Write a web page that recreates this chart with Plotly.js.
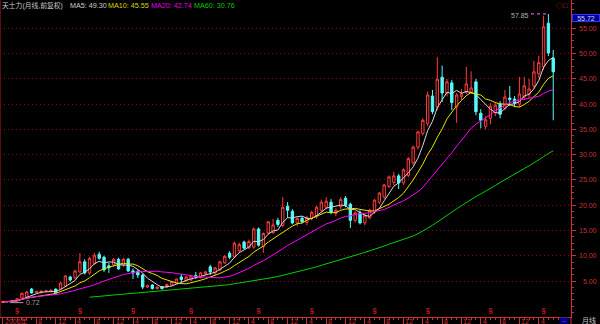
<!DOCTYPE html>
<html><head><meta charset="utf-8">
<script src="https://cdn.plot.ly/plotly-3.0.1.min.js"></script>
<style>html,body{margin:0;padding:0;background:#000;overflow:hidden}#chart{width:600px;height:324px}</style>
</head><body><div id="chart"></div>
<script>
// Monthly candles, Jan 2006 .. Jul 2015 (前复权)
const opens = [0.80,0.86,0.95,1.06,1.62,1.86,3.40,2.68,2.70,3.00,
3.00,3.40,3.40,4.00,5.80,5.60,6.80,8.80,6.60,8.50,
10.30,9.70,8.00,8.20,9.30,8.20,9.30,7.00,6.90,6.20,
3.80,4.20,3.50,3.90,3.80,4.20,4.60,5.80,5.00,5.20,
6.10,5.70,6.40,7.80,6.60,7.20,8.60,10.50,9.80,11.00,
12.70,11.60,11.70,15.30,11.80,14.50,14.60,17.00,16.00,19.80,
18.80,16.50,17.40,16.60,17.40,17.70,19.00,19.60,20.60,18.40,
19.70,21.40,20.20,17.00,18.50,16.50,17.50,18.60,20.60,21.60,
23.70,24.50,25.80,24.40,25.90,28.40,31.50,34.20,36.20,41.60,
39.40,45.30,42.20,44.20,39.40,41.50,42.40,42.40,44.40,38.20,
35.60,37.20,38.30,40.00,39.20,41.20,41.00,40.00,41.40,42.00,
43.60,46.00,47.40,56.00,49.10];
const highs = [0.92,1.00,1.15,1.62,2.72,3.00,3.62,3.10,3.10,3.22,
3.30,3.52,4.80,6.20,6.05,7.20,10.50,9.30,9.80,10.60,
10.80,10.00,8.60,9.60,9.60,9.60,9.60,7.50,7.20,6.40,
4.30,4.40,3.90,4.00,4.50,5.00,5.50,6.40,6.00,6.20,
6.80,6.80,7.00,8.20,7.80,9.00,10.10,10.90,12.80,12.60,
13.00,13.20,15.60,15.60,14.60,16.90,17.30,17.50,21.60,20.60,
19.20,17.60,17.80,17.90,18.90,19.90,21.10,21.60,21.20,19.40,
21.60,21.80,20.50,18.80,19.00,18.30,19.30,21.20,22.60,24.20,
25.90,26.60,26.20,27.30,29.50,31.80,34.80,37.20,42.50,42.80,
49.30,47.60,45.00,44.80,42.20,43.00,47.40,46.50,45.00,39.00,
37.60,40.20,40.20,40.60,42.80,43.60,41.60,45.40,45.40,45.00,
48.60,49.60,57.50,57.85,50.70];
const lows = [0.74,0.72,0.88,1.00,1.52,1.80,2.50,2.58,2.52,2.82,
2.90,2.60,3.22,3.80,4.90,5.30,6.60,6.30,6.20,8.20,
9.20,6.80,6.60,7.90,7.20,7.80,6.80,5.40,5.60,3.40,
3.60,3.30,3.30,3.30,3.60,4.00,4.40,4.60,4.80,5.00,
5.40,5.50,6.20,6.20,6.20,7.00,8.40,9.30,9.60,10.50,
11.30,11.30,11.40,11.80,10.60,14.20,14.30,15.70,15.60,17.50,
16.20,15.80,16.40,16.00,17.00,17.30,18.60,19.20,18.20,17.80,
19.20,19.60,15.50,16.60,16.20,16.00,17.20,18.30,20.20,21.20,
23.40,24.00,23.20,24.00,25.50,28.00,31.00,33.80,35.60,38.00,
38.80,40.40,41.50,38.80,36.30,40.80,42.00,42.00,37.80,35.20,
35.00,36.00,37.60,37.20,38.80,39.60,39.40,39.40,40.80,41.20,
43.00,45.20,46.80,49.50,36.80];
const closes = [0.86,0.95,1.06,1.48,2.58,2.84,2.64,2.90,3.00,3.06,
3.16,2.70,4.60,6.00,5.20,7.00,8.80,6.60,9.50,10.10,
9.50,7.20,7.60,9.30,7.40,9.30,7.00,6.60,6.20,3.80,
4.10,3.50,3.80,3.50,4.30,4.90,5.40,5.30,5.80,6.00,
5.90,6.60,6.80,6.80,7.60,8.80,9.90,9.70,12.50,12.20,
11.50,12.80,15.30,12.10,14.40,16.70,16.10,16.20,19.60,19.00,
16.50,17.40,16.70,17.50,18.60,19.60,20.60,20.80,18.60,19.00,
21.10,20.00,17.00,18.50,16.50,18.00,19.00,21.00,22.40,24.00,
25.60,25.80,24.40,27.00,29.20,31.50,34.50,36.80,41.80,38.50,
44.90,42.20,44.40,40.30,41.80,42.00,44.00,43.20,38.50,36.80,
36.90,39.60,39.80,38.00,41.40,40.90,40.20,42.00,43.60,43.00,
46.40,48.20,55.30,50.10,46.40];
// MA60 (starts Jul 2007)
const ma60 = [null,null,null,null,null,null,null,null,null,null,null,null,null,null,null,null,null,null,
1.80,1.88,1.97,2.06,2.15,2.25,2.35,2.45,2.55,2.64,2.73,2.80,2.87,2.94,3.01,3.08,3.15,3.22,3.30,3.38,
3.46,3.54,3.62,3.70,3.79,3.89,3.98,4.08,4.19,4.31,4.45,4.59,4.73,4.87,5.03,5.18,5.34,5.52,5.70,5.90,
6.12,6.34,6.55,6.80,7.04,7.29,7.55,7.82,8.12,8.42,8.70,8.98,9.28,9.58,9.84,10.12,10.38,10.66,10.95,
11.26,11.58,11.92,12.28,12.59,12.87,13.17,13.53,13.90,14.36,14.86,15.45,16.03,16.71,17.36,18.04,
18.65,19.28,19.90,20.54,21.17,21.72,22.23,22.75,23.30,23.88,24.49,25.07,25.63,26.15,26.69,27.26,
27.77,28.34,28.93,29.60,30.23,30.76];
const tickIdx  = [0,7,11,15,19,23,27,31,35,39,43,47,51,55,59,63,67,71,75,79,83,87,91,95,99,103,107,111];
const tickText = ["2006年","8","12","4","8","12","4","8","12","4","8","12","4","8","12","4","8","12","4","8","12","4","8","12","4","8","12","4"];
const yTicks = [5,10,15,20,25,30,35,40,45,50,55];
const divIdx = [3,16,27,39,53,64,77,88,101,112];
const maxIdx = 113, maxVal = 57.85, minIdx = 1, minVal = 0.72;
const lastPrice = "55.72";
const titleParts = [
  {t:"天士力(月线,前复权)", c:"#c8c8c8", x:0, s:6.8},
  {t:"MA5: 49.30", c:"#d0d0d0", x:68, s:7.2},
  {t:"MA10: 45.55", c:"#d8d800", x:106, s:7.2},
  {t:"MA20: 42.74", c:"#e000e0", x:149, s:7.2},
  {t:"MA60: 30.76", c:"#00c800", x:192, s:7.2}
];

const idx = closes.map((_, i) => i);
function ma(arr, n){ return arr.map((v,i)=>{const s=arr.slice(Math.max(0,i-n+1),i+1);return s.reduce((a,b)=>a+b,0)/s.length;}); }

const RED = "#ff3c3c", CYAN = "#54fcfc", AX = "#c83232";
const FONT = "Liberation Sans, Noto Sans CJK SC, sans-serif";
const W = 571, H = 317;

const traces = [
  {type:"candlestick", x:idx, open:opens, high:highs, low:lows, close:closes,
   increasing:{line:{color:RED,width:1}, fillcolor:"#000000"},
   decreasing:{line:{color:CYAN,width:1}, fillcolor:CYAN},
   whiskerwidth:0, hoverinfo:"skip", showlegend:false},
  {type:"scatter", mode:"lines", x:idx, y:ma(closes,5), line:{color:"#d8d8d8",width:1}, hoverinfo:"skip", showlegend:false},
  {type:"scatter", mode:"lines", x:idx, y:ma(closes,10), line:{color:"#e6e600",width:1}, hoverinfo:"skip", showlegend:false},
  {type:"scatter", mode:"lines", x:idx, y:ma(closes,20), line:{color:"#ff00ff",width:1}, hoverinfo:"skip", showlegend:false},
  {type:"scatter", mode:"lines", x:idx, y:ma60, line:{color:"#00d000",width:1}, hoverinfo:"skip", showlegend:false, connectgaps:false},
  {type:"scatter", mode:"text", x:divIdx, y:divIdx.map(()=>-0.9), text:divIdx.map(()=>"§"),
   textfont:{color:"#ff2020", size:8, family:FONT}, hoverinfo:"skip", showlegend:false, cliponaxis:false},
  {type:"scatter", mode:"lines", x:[maxIdx-3.6, maxIdx-0.3], y:[maxVal,maxVal], line:{color:"#ff70ff",width:1,dash:"dot"}, hoverinfo:"skip", showlegend:false},
  {type:"scatter", mode:"lines", x:[minIdx+0.5, minIdx+3.3], y:[minVal,minVal], line:{color:"#a0a0a0",width:1}, hoverinfo:"skip", showlegend:false}
];

const ann = [];
titleParts.forEach(p => ann.push({xref:"paper", yref:"paper", x:p.x/W, y:(H-6)/H, xanchor:"left", yanchor:"middle",
  text:p.t, showarrow:false, font:{color:p.c, size:p.s, family:FONT}}));
tickIdx.forEach((v,k) => ann.push({xref:"x", yref:"paper", x:v, xshift:0, y:(H-321)/H, xanchor:"left", yanchor:"middle",
  text:tickText[k], showarrow:false, font:{color:AX, size:7, family:FONT}}));
yTicks.forEach(v => ann.push({xref:"paper", yref:"y", x:599/W, y:v, xanchor:"right", yanchor:"middle",
  text:v.toFixed(2), showarrow:false, font:{color:AX, size:7, family:FONT}}));
ann.push({xref:"x", yref:"y", x:maxIdx-3.7, y:maxVal-0.4, xanchor:"right", yanchor:"middle", text:maxVal.toFixed(2), showarrow:false,
  font:{color:"#b0b0b0", size:7, family:FONT}});
ann.push({xref:"x", yref:"y", x:minIdx+3.5, y:minVal+0.1, xanchor:"left", yanchor:"middle", text:minVal.toFixed(2), showarrow:false,
  font:{color:"#a0a0a0", size:7, family:FONT}});
ann.push({xref:"paper", yref:"paper", x:572/W, y:(H-18)/H, xanchor:"left", yanchor:"middle", text:lastPrice, showarrow:false,
  bgcolor:"#000090", bordercolor:"#3030ff", borderwidth:1, borderpad:0, width:26, height:6,
  font:{color:"#d0d0ff", size:7, family:FONT}});
ann.push({xref:"paper", yref:"paper", x:570/W, y:(H-5.5)/H, xanchor:"right", yanchor:"middle", text:"◇□", showarrow:false,
  font:{color:AX, size:7, family:FONT}});
ann.push({xref:"paper", yref:"paper", x:564/W, y:(H-320.5)/H, xanchor:"center", yanchor:"middle", text:"--", showarrow:false,
  bgcolor:"#000090", borderpad:0, width:8, height:5, font:{color:"#8080ff", size:6, family:FONT}});
ann.push({xref:"paper", yref:"paper", x:580/W, y:(H-320.5)/H, xanchor:"left", yanchor:"middle", text:"月线", showarrow:false,
  font:{color:"#c0c0c0", size:7, family:FONT}});

const layout = {
  width:600, height:324, margin:{l:0, r:29, t:0, b:7},
  paper_bgcolor:"#000000", plot_bgcolor:"#000000",
  showlegend:false, dragmode:false,
  xaxis:{range:[-0.538,117.68], showgrid:false, zeroline:false, showline:true, linecolor:AX, linewidth:1,
    tickmode:"array", tickvals:tickIdx, ticks:"outside", ticklen:6, tickcolor:AX, showticklabels:false,
    minor:{tickmode:"linear", tick0:0, dtick:1, ticks:"outside", ticklen:2, tickcolor:AX},
    rangeslider:{visible:false}, fixedrange:true},
  yaxis:{range:[-2.12,60.6], side:"right", showgrid:true, gridcolor:"#960000", griddash:"1px,3px", gridwidth:1,
    zeroline:false, showline:true, linecolor:AX, linewidth:1, tickmode:"array", tickvals:yTicks,
    ticks:"outside", ticklen:4, tickcolor:AX, showticklabels:false,
    minor:{tickmode:"linear", tick0:0, dtick:1.25, ticks:"outside", ticklen:2, tickcolor:AX, showgrid:false},
    fixedrange:true},
  shapes:[
    {type:"line", xref:"paper", yref:"paper", x0:1, x1:1, y0:-0.03, y1:0, line:{color:AX,width:1}},
    {type:"line", xref:"paper", yref:"paper", x0:0.001, x1:0.001, y0:0, y1:1, line:{color:"#601010",width:1}}
  ],
  annotations:ann
};
Plotly.newPlot("chart", traces, layout, {staticPlot:true, displayModeBar:false});
</script></body></html>
